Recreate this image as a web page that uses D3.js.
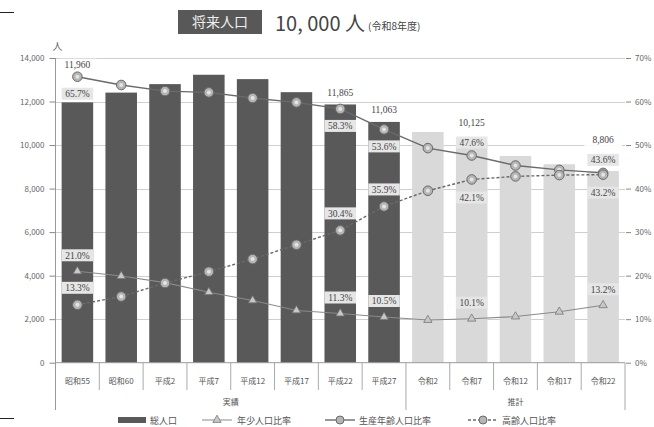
<!DOCTYPE html>
<html><head><meta charset="utf-8">
<script src="https://cdn.jsdelivr.net/npm/d3@7"></script>
<style>body{margin:0;background:#fff}svg{display:block}</style>
</head><body>
<svg id="c" width="654" height="427"></svg>
<script>
const categories = ["昭和55","昭和60","平成2","平成7","平成12","平成17","平成22","平成27","令和2","令和7","令和12","令和17","令和22"];
const status = ["実績","実績","実績","実績","実績","実績","実績","実績","推計","推計","推計","推計","推計"];
const totalPop = [11960, 12410, 12800, 13230, 13030, 12430, 11865, 11063, 10600, 10125, 9500, 9120, 8806];
const youthRatio = [21.0, 19.9, 18.4, 16.2, 14.3, 12.0, 11.3, 10.5, 9.8, 10.1, 10.6, 11.7, 13.2];
const prodRatio = [65.7, 63.8, 62.4, 62.1, 60.8, 59.8, 58.3, 53.6, 49.3, 47.6, 45.3, 44.3, 43.6];
const elderRatio = [13.3, 15.2, 18.3, 20.9, 23.8, 27.1, 30.4, 35.9, 39.5, 42.1, 42.8, 43.1, 43.2];
const labeled = ["昭和55","平成22","平成27","令和7","令和22"];
const leftTicks = [0,2000,4000,6000,8000,10000,12000,14000];
const rightTicks = [0,10,20,30,40,50,60,70];
const groups = ["実績","推計"];
const legendNames = ["総人口","年少人口比率","生産年齢人口比率","高齢人口比率"];
const titleBox = "将来人口";
const titleValue = "10, 000 人";
const titleNote = "(令和8年度)";

const svg = d3.select("#c");
const L = 55.5, R = 625, T = 58, B = 362.7;
const x = d3.scaleBand().domain(categories).range([L, R]).paddingInner(0.28).paddingOuter(0.14);
const yL = d3.scaleLinear().domain([0,14000]).range([B,T]);
const yR = d3.scaleLinear().domain([0,70]).range([B,T]);
const cx = c => x(c) + x.bandwidth()/2;
const sans = "'Noto Sans CJK JP','Noto Sans',sans-serif";
const serif = "'Liberation Serif','DejaVu Serif',serif";

// decorative corner marks
svg.append("line").attr("x1",0).attr("x2",14).attr("y1",12.5).attr("y2",12.5).attr("stroke","#222");
svg.append("line").attr("x1",0).attr("x2",14).attr("y1",418.5).attr("y2",418.5).attr("stroke","#222");

// title
svg.append("rect").attr("x",178).attr("y",10).attr("width",84).attr("height",24).attr("fill","#585858");
svg.append("text").attr("x",220).attr("y",27).attr("text-anchor","middle").attr("fill","#eee")
  .attr("font-family",sans).attr("font-size",14).text(titleBox);
const tv = svg.append("text").attr("x",275).attr("y",31).attr("fill","#444").attr("font-family",sans);
tv.append("tspan").attr("font-size",20).text(titleValue);
tv.append("tspan").attr("font-size",10).attr("dx",3).attr("dy",-1).text(titleNote);

// gridlines
svg.append("g").selectAll("line").data(leftTicks.slice(1)).join("line")
  .attr("x1",L).attr("x2",R).attr("y1",d=>Math.round(yL(d))+0.5).attr("y2",d=>Math.round(yL(d))+0.5)
  .attr("stroke","#cfcfcf").attr("stroke-width",1.2);

// left axis
const axL = d3.axisLeft(yL).tickValues(leftTicks).tickSize(6).tickFormat(d3.format(","));
const gL = svg.append("g").attr("transform",`translate(${L},0)`).call(axL);
gL.select(".domain").remove();
gL.selectAll("line").attr("stroke","#888");
gL.selectAll("text").attr("font-family",sans).attr("font-size",8).attr("fill","#666").attr("x",-11);
svg.append("line").attr("x1",L).attr("x2",L).attr("y1",T).attr("y2",410).attr("stroke","#999");
svg.append("text").attr("x",L+2).attr("y",50).attr("text-anchor","middle").attr("font-family",sans)
  .attr("font-size",10).attr("fill","#666").text("人");

// right axis
const axR = d3.axisRight(yR).tickValues(rightTicks).tickSize(5).tickFormat(d=>d+"%");
const gR = svg.append("g").attr("transform",`translate(${R+1},0)`).call(axR);
gR.select(".domain").remove();
gR.selectAll("line").attr("stroke","#888");
gR.selectAll("text").attr("font-family",sans).attr("font-size",8).attr("fill","#666").attr("x",9);

// bars
svg.append("g").selectAll("rect").data(categories).join("rect")
  .attr("x",c=>x(c)).attr("width",x.bandwidth())
  .attr("y",(c,i)=>yL(totalPop[i])).attr("height",(c,i)=>B-yL(totalPop[i]))
  .attr("fill",(c,i)=>status[i]==="実績"?"#595959":"#d9d9d9");

// baseline
svg.append("line").attr("x1",L).attr("x2",R).attr("y1",B).attr("y2",B).attr("stroke","#999");

// category separators
const edges = categories.map(c=>x(c)-x.step()*x.paddingInner()/2).slice(1);
svg.append("g").selectAll("line").data(edges).join("line")
  .attr("x1",d=>d).attr("x2",d=>d).attr("y1",B).attr("y2",(d,i)=>status[i]!==status[i+1]?410:390)
  .attr("stroke","#aaa");
svg.append("line").attr("x1",R).attr("x2",R).attr("y1",B).attr("y2",410).attr("stroke","#aaa");

svg.append("g").selectAll("text").data(categories).join("text")
  .attr("x",cx).attr("y",384).attr("text-anchor","middle").attr("font-family",sans)
  .attr("font-size",8).attr("fill","#555").text(d=>d);

groups.forEach(g=>{
  const cs = categories.filter((c,i)=>status[i]===g);
  const mid = (x(cs[0]) + x(cs[cs.length-1]) + x.bandwidth())/2;
  svg.append("text").attr("x",mid).attr("y",405).attr("text-anchor","middle").attr("font-family",sans)
    .attr("font-size",8).attr("fill","#555").text(g);
});

// lines
const mk = arr => d3.line().x((d,i)=>cx(categories[i])).y(d=>yR(d));
svg.append("path").attr("d",mk()(youthRatio)).attr("fill","none").attr("stroke","#8a8a8a").attr("stroke-width",1.1);
svg.append("path").attr("d",mk()(prodRatio)).attr("fill","none").attr("stroke","#6a6a6a").attr("stroke-width",1.4);
svg.append("path").attr("d",mk()(elderRatio)).attr("fill","none").attr("stroke","#6a6a6a").attr("stroke-width",1.4).attr("stroke-dasharray","3,2");

// markers
const tri = d3.symbol().type(d3.symbolTriangle).size(30);
svg.append("g").selectAll("path").data(youthRatio).join("path")
  .attr("d",tri).attr("transform",(d,i)=>`translate(${cx(categories[i])},${yR(d)})`)
  .attr("fill","#c8c8c8").attr("stroke","#777").attr("stroke-width",0.8);
[prodRatio, elderRatio].forEach(arr=>{
  const g = svg.append("g");
  g.selectAll("circle.o").data(arr).join("circle").attr("class","o")
    .attr("cx",(d,i)=>cx(categories[i])).attr("cy",d=>yR(d)).attr("r",4.8)
    .attr("fill","#b5b5b5").attr("stroke","#6a6a6a").attr("stroke-width",1);
  g.selectAll("circle.i").data(arr).join("circle").attr("class","i")
    .attr("cx",(d,i)=>cx(categories[i])).attr("cy",d=>yR(d)).attr("r",2)
    .attr("fill","#e4e4e4");
});

// data labels
function label(xc, yc, txt, fill, w){
  svg.append("rect").attr("x",xc-w/2).attr("y",yc-6).attr("width",w).attr("height",12).attr("fill",fill);
  svg.append("text").attr("x",xc).attr("y",yc+3.5).attr("text-anchor","middle").attr("font-family",serif)
    .attr("font-size",9.5).attr("fill","#444").text(txt);
}
categories.forEach((c,i)=>{
  if(!labeled.includes(c)) return;
  const xc = cx(c), bw = x.bandwidth();
  const act = status[i]==="実績";
  const py = yR(prodRatio[i]), ey = yR(elderRatio[i]), yy = yR(youthRatio[i]);
  const pLab = act ? py+17 : py-13;
  const eLab = act ? ey-17 : ey+18;
  const yLab = yy-16;
  const tLab = Math.min(yL(totalPop[i]), py, pLab-8) - 12;
  label(xc, pLab, prodRatio[i].toFixed(1)+"%", "#e6e6e6", bw);
  label(xc, eLab, elderRatio[i].toFixed(1)+"%", "#e6e6e6", bw);
  label(xc, yLab, youthRatio[i].toFixed(1)+"%", "#e6e6e6", bw);
  label(xc, tLab, d3.format(",")(totalPop[i]), "#fff", bw+6);
});

// legend
const ly = 420;
const lg = svg.append("g").attr("font-family",sans).attr("font-size",9).attr("fill","#555");
lg.append("rect").attr("x",118).attr("y",ly-3).attr("width",28).attr("height",6).attr("fill","#595959");
lg.append("text").attr("x",150).attr("y",ly+3.5).text(legendNames[0]);
lg.append("line").attr("x1",202).attr("x2",232).attr("y1",ly).attr("y2",ly).attr("stroke","#8a8a8a");
lg.append("path").attr("d",tri).attr("transform",`translate(217,${ly})`).attr("fill","#c8c8c8").attr("stroke","#777").attr("stroke-width",0.8);
lg.append("text").attr("x",237).attr("y",ly+3.5).text(legendNames[1]);
lg.append("line").attr("x1",325).attr("x2",355).attr("y1",ly).attr("y2",ly).attr("stroke","#6a6a6a").attr("stroke-width",1.4);
lg.append("circle").attr("cx",340).attr("cy",ly).attr("r",4).attr("fill","#b5b5b5").attr("stroke","#6a6a6a");
lg.append("text").attr("x",359).attr("y",ly+3.5).text(legendNames[2]);
lg.append("line").attr("x1",468).attr("x2",498).attr("y1",ly).attr("y2",ly).attr("stroke","#6a6a6a").attr("stroke-width",1.4).attr("stroke-dasharray","3,2");
lg.append("circle").attr("cx",483).attr("cy",ly).attr("r",4).attr("fill","#b5b5b5").attr("stroke","#6a6a6a");
lg.append("text").attr("x",502).attr("y",ly+3.5).text(legendNames[3]);
</script>
</body></html>
